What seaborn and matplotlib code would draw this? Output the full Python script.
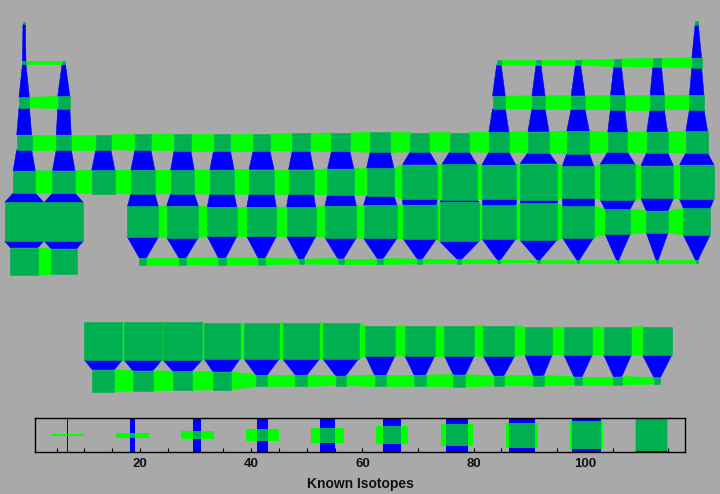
import numpy as np
import pandas as pd
import matplotlib
matplotlib.use("Agg")
import matplotlib.pyplot as plt
from matplotlib.patches import Polygon, Rectangle
from matplotlib.ticker import FixedLocator, MultipleLocator
import seaborn as sns

# ---------------- data ----------------
period1_symbols = ["H", "He"]
period1_columns = [1, 18]
period1_isotopes = [9, 11]

period2_symbols = ["Li", "Be", "B", "C", "N", "O", "F", "Ne"]
period2_columns = [1, 2, 13, 14, 15, 16, 17, 18]
period2_isotopes = [12, 12, 15, 16, 17, 24, 27, 30]

period3_symbols = ["Na", "Mg", "Al", "Si", "P", "S", "Cl", "Ar"]
period3_columns = [1, 2, 13, 14, 15, 16, 17, 18]
period3_isotopes = [32, 37, 39, 40, 42, 43, 43, 44]

period4_symbols = ["K", "Ca", "Sc", "Ti", "V", "Cr", "Mn", "Fe", "Co", "Ni",
                   "Cu", "Zn", "Ga", "Ge", "As", "Se", "Br", "Kr"]
period4_columns = [1, 2, 3, 4, 5, 6, 7, 8, 9, 10, 11, 12, 13, 14, 15, 16, 17, 18]
period4_isotopes = [45, 45, 45, 48, 50, 50, 50, 53, 55, 60, 57, 58, 60, 63, 67, 59, 62, 65]

period5_symbols = ["Rb", "Sr", "Y", "Zr", "Nb", "Mo", "Tc", "Ru", "Rh", "Pd",
                   "Ag", "Cd", "In", "Sn", "Sb", "Te", "I", "Xe"]
period5_columns = [1, 2, 3, 4, 5, 6, 7, 8, 9, 10, 11, 12, 13, 14, 15, 16, 17, 18]
period5_isotopes = [66, 67, 69, 71, 70, 72, 74, 74, 78, 81, 102, 103, 100, 108, 93, 103, 96, 101]

period6_symbols = ["Cs", "Ba", "Hf", "Ta", "W", "Re", "Os", "Ir", "Pt", "Au",
                   "Hg", "Tl", "Pb", "Bi", "Po", "At", "Rn"]
period6_columns = [1, 2, 4, 5, 6, 7, 8, 9, 10, 11, 12, 13, 14, 15, 16, 17, 18]
period6_isotopes = [114, 114, 91, 93, 87, 87, 86, 93, 98, 99, 115, 100, 108, 93, 74, 65, 79]

period7_symbols = ["Fr", "Ra", "Rf", "Db", "Sg", "Bh", "Hs", "Mt", "Ds", "Rg",
                   "Cn", "Nh", "Fl", "Mc", "Lv", "Ts", "Og"]
period7_columns = [1, 2, 4, 5, 6, 7, 8, 9, 10, 11, 12, 13, 14, 15, 16, 17, 18]
period7_isotopes = [82, 76, 22, 22, 23, 22, 16, 19, 19, 16, 14, 11, 8, 8, 8, 8, 8]

lanthanide_symbols = ["La", "Ce", "Pr", "Nd", "Pm", "Sm", "Eu", "Gd", "Tb", "Dy",
                      "Ho", "Er", "Tm", "Yb", "Lu"]
lanthanide_columns = [3, 4, 5, 6, 7, 8, 9, 10, 11, 12, 13, 14, 15, 16, 17]
lanthanide_isotopes = [111, 111, 113, 105, 104, 107, 105, 87, 88, 88, 91, 81, 83, 82, 85]

actinide_symbols = ["Ac", "Th", "Pa", "U", "Np", "Pu", "Am", "Cm", "Bk", "Cf",
                    "Es", "Fm", "Md", "No", "Lr"]
actinide_columns = [3, 4, 5, 6, 7, 8, 9, 10, 11, 12, 13, 14, 15, 16, 17]
actinide_isotopes = [66, 60, 57, 54, 35, 35, 30, 35, 35, 37, 31, 32, 26, 26, 21]

legend_values = [7, 18.7, 30.3, 42, 53.7, 65.3, 77, 88.7, 100.3, 112]
legend_tick_values = [20, 40, 60, 80, 100]
legend_tick_labels = ["20", "40", "60", "80", "100"]
axis_title = "Known Isotopes"

# ---------------- build table ----------------
blocks = [
    (1, period1_symbols, period1_columns, period1_isotopes),
    (2, period2_symbols, period2_columns, period2_isotopes),
    (3, period3_symbols, period3_columns, period3_isotopes),
    (4, period4_symbols, period4_columns, period4_isotopes),
    (5, period5_symbols, period5_columns, period5_isotopes),
    (6, period6_symbols, period6_columns, period6_isotopes),
    (7, period7_symbols, period7_columns, period7_isotopes),
    (9, lanthanide_symbols, lanthanide_columns, lanthanide_isotopes),
    (10, actinide_symbols, actinide_columns, actinide_isotopes),
]
rows = []
for r, syms, cols, isos in blocks:
    for s, c, n in zip(syms, cols, isos):
        rows.append({"symbol": s, "row": r, "col": c, "isotopes": n})
df = pd.DataFrame(rows)

# ---------------- style ----------------
BG = "#A9A9A9"
SQUARE = "#00B050"
HLINK = "#00FF00"
VLINK = "#0000FF"

sns.set_theme(style="white")
plt.rcParams["font.family"] = ["Liberation Sans", "DejaVu Sans"]


def frac(n):
    return (n - 2.0) / 114.0


W_PX, H_PX = 720, 494
COL_PX, ROW_PX = 39.56, 39.75
X0_PX, Y0_PX = 24.2, 23.0

fig = plt.figure(figsize=(W_PX / 100, H_PX / 100), dpi=100)
fig.patch.set_facecolor(BG)

ax = fig.add_axes([0, 0, 1, 1])
ax.set_facecolor(BG)
ax.set_xlim((0 - X0_PX) / COL_PX + 1, (W_PX - X0_PX) / COL_PX + 1)
ax.set_ylim((H_PX - Y0_PX) / ROW_PX + 1, (0 - Y0_PX) / ROW_PX + 1)
ax.axis("off")

yscale = COL_PX / ROW_PX
lookup = {(r.row, r.col): frac(r.isotopes) for r in df.itertuples()}

# links
for (r, c), f1 in lookup.items():
    w1, h1 = f1, f1 * yscale
    if (r, c + 1) in lookup:
        f2 = lookup[(r, c + 1)]
        w2, h2 = f2, f2 * yscale
        poly = [(c + w1 / 2, r - h1 / 2), (c + 1 - w2 / 2, r - h2 / 2),
                (c + 1 - w2 / 2, r + h2 / 2), (c + w1 / 2, r + h1 / 2)]
        ax.add_patch(Polygon(poly, closed=True, facecolor=HLINK, edgecolor=HLINK,
                             lw=0.4, zorder=2))
    if (r + 1, c) in lookup:
        f2 = lookup[(r + 1, c)]
        w2, h2 = f2, f2 * yscale
        poly = [(c - w1 / 2, r + h1 / 2), (c + w1 / 2, r + h1 / 2),
                (c + w2 / 2, r + 1 - h2 / 2), (c - w2 / 2, r + 1 - h2 / 2)]
        ax.add_patch(Polygon(poly, closed=True, facecolor=VLINK, edgecolor=VLINK,
                             lw=0.4, zorder=1))

# squares
for (r, c), f in lookup.items():
    w, h = f, f * yscale
    ax.add_patch(Rectangle((c - w / 2, r - h / 2), w, h, facecolor=SQUARE,
                           edgecolor=SQUARE, lw=0.4, zorder=3))

# ---------------- legend strip ----------------
LX0, LX1 = 35.3, 685.0
LY_TOP, LY_BOT = 418.3, 452.0
UNIT_PX = 5.56
ZERO_PX = 28.8
lax = fig.add_axes([LX0 / W_PX, (H_PX - LY_BOT) / H_PX,
                    (LX1 - LX0) / W_PX, (LY_BOT - LY_TOP) / H_PX])
lax.set_facecolor("none")
lax.set_xlim((LX0 - ZERO_PX) / UNIT_PX, (LX1 - ZERO_PX) / UNIT_PX)
lax.set_ylim(0, 1)
box_h = LY_BOT - LY_TOP
cell_px = 33.0
band_w = 32.7 / UNIT_PX
for v in legend_values:
    f = frac(v)
    w = f * cell_px / UNIT_PX
    h = f * cell_px / box_h
    lax.add_patch(Rectangle((v - w / 2, 0), w, 1, facecolor=VLINK, edgecolor="none", zorder=1))
    lax.add_patch(Rectangle((v - band_w / 2, 0.5 - h / 2), band_w, h,
                            facecolor=HLINK, edgecolor="none", zorder=2))
    lax.add_patch(Rectangle((v - w / 2, 0.5 - h / 2), w, h,
                            facecolor=SQUARE, edgecolor="none", zorder=3))

for sp in lax.spines.values():
    sp.set_visible(True)
    sp.set_color("black")
    sp.set_linewidth(1.0)
    sp.set_zorder(5)
lax.xaxis.set_major_locator(FixedLocator(legend_tick_values))
lax.set_xticklabels(legend_tick_labels)
lax.xaxis.set_minor_locator(MultipleLocator(5))
lax.tick_params(axis="x", which="both", direction="in", length=3, width=0.8,
                color="black", bottom=True, top=False, labelsize=9.5, pad=4,
                labelcolor="#111111")
lax.set_yticks([])
for lbl in lax.get_xticklabels():
    lbl.set_fontweight("bold")
lax.set_xlabel(axis_title, fontsize=10, fontweight="bold", color="#111111", labelpad=5)

fig.savefig("out.png", dpi=100, facecolor=BG)
